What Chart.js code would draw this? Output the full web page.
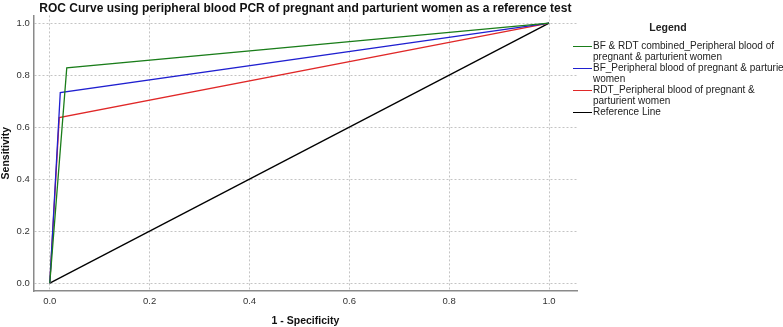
<!DOCTYPE html>
<html>
<head>
<meta charset="utf-8">
<script src="https://cdn.jsdelivr.net/npm/chart.js@4"></script>
<style>
  body { margin: 0; background: #fff; }
  #wrap { position: relative; width: 783px; height: 327px; overflow: hidden; }
  #legend { position: absolute; left: 573px; top: 21px; width: 230px; font-family: "Liberation Sans", Arial, sans-serif; font-size: 10px; color: #222; }
  #legend .ttl { font-weight: bold; text-align: center; width: 190px; margin-bottom: 8px; font-size: 10.5px; }
  #legend .item { display: flex; align-items: flex-start; margin-bottom: 1px; line-height: 10.5px; }
  #legend .sw { width: 19px; height: 1.2px; margin-top: 5px; margin-right: 1px; flex: none; }
  #legend .txt { width: 203px; }
</style>
</head>
<body>
<div id="wrap">
  <canvas id="roc" width="783" height="327"></canvas>
  <div id="legend"></div>
</div>
<script>
const seriesNames = [
  'BF & RDT combined_Peripheral blood of pregnant & parturient women',
  'BF_Peripheral blood of pregnant & parturient women',
  'RDT_Peripheral blood of pregnant & parturient women',
  'Reference Line'
];
const seriesColors = ['#1a7d1a', '#2020d0', '#e02828', '#000000'];

// 1 - specificity / sensitivity points for each curve
const combinedFpr = [0, 0.034, 1];
const combinedTpr = [0, 0.828, 1];
const bfFpr = [0, 0.021, 1];
const bfTpr = [0, 0.733, 1];
const rdtFpr = [0, 0.019, 1];
const rdtTpr = [0, 0.637, 1];
const refFpr = [0, 1];
const refTpr = [0, 1];

const xTicks = [0, 0.2, 0.4, 0.6, 0.8, 1.0];
const yTicks = [0, 0.2, 0.4, 0.6, 0.8, 1.0];

function pts(xs, ys) {
  return xs.map((x, i) => ({ x: x, y: ys[i] }));
}

const curves = [
  pts(combinedFpr, combinedTpr),
  pts(bfFpr, bfTpr),
  pts(rdtFpr, rdtTpr),
  pts(refFpr, refTpr)
];

const font = "'Liberation Sans', Arial, sans-serif";
const gridOpts = { color: '#c4c4c4', drawTicks: false };
const borderOpts = { color: '#8a8a8a', width: 1.5, dash: [2, 2] };

const chart = new Chart(document.getElementById('roc').getContext('2d'), {
  type: 'scatter',
  data: {
    datasets: curves.map((d, i) => ({
      label: seriesNames[i],
      data: d,
      showLine: true,
      borderColor: seriesColors[i],
      backgroundColor: seriesColors[i],
      borderWidth: 1.3,
      pointRadius: 0,
      tension: 0
    }))
  },
  options: {
    responsive: false,
    animation: false,
    layout: { padding: { left: 0, right: 206, top: 0, bottom: 0 } },
    plugins: {
      legend: { display: false },
      tooltip: { enabled: false },
      title: {
        display: true,
        fullSize: false,
        text: 'ROC Curve using peripheral blood PCR of pregnant and parturient women as a reference test',
        color: '#111',
        font: { family: font, size: 12, weight: 'bold' },
        padding: { top: 1, bottom: 0 }
      }
    },
    scales: {
      x: {
        type: 'linear',
        min: -0.032,
        max: 1.056,
        afterBuildTicks: s => { s.ticks = xTicks.map(v => ({ value: v })); },
        grid: gridOpts,
        border: borderOpts,
        ticks: {
          color: '#333', font: { family: font, size: 9.5 }, padding: 5,
          callback: v => v.toFixed(1)
        },
        title: {
          display: true, text: '1 - Specificity', color: '#111',
          font: { family: font, size: 10.5, weight: 'bold' }, padding: { top: 2, bottom: 0 }
        }
      },
      y: {
        type: 'linear',
        min: -0.03,
        max: 1.03,
        afterBuildTicks: s => { s.ticks = yTicks.map(v => ({ value: v })); },
        grid: gridOpts,
        border: borderOpts,
        ticks: {
          color: '#333', font: { family: font, size: 9.5 }, padding: 4,
          callback: v => v.toFixed(1)
        },
        title: {
          display: true, text: 'Sensitivity', color: '#111',
          font: { family: font, size: 10.5, weight: 'bold' }, padding: { top: 0, bottom: 0 }
        }
      }
    }
  }
});

// wrapped legend like the original, built from the datasets
const legend = document.getElementById('legend');
let html = '<div class="ttl">Legend</div>';
chart.data.datasets.forEach(ds => {
  html += '<div class="item"><span class="sw" style="background:' + ds.borderColor + '"></span>' +
          '<span class="txt">' + ds.label.replace(/&/g, '&amp;') + '</span></div>';
});
legend.innerHTML = html;
</script>
</body>
</html>
